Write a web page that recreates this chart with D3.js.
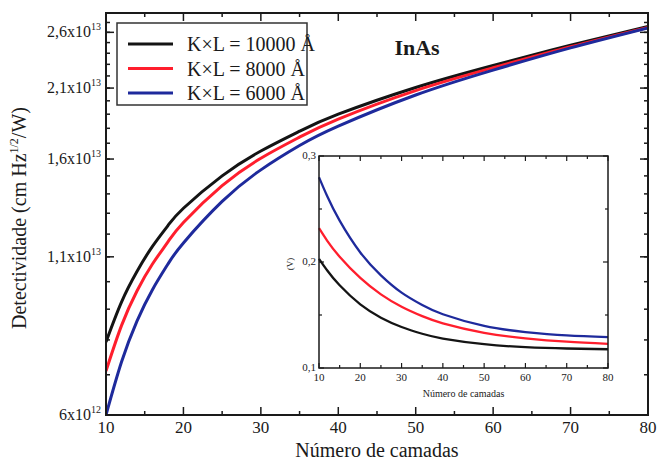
<!DOCTYPE html>
<html>
<head>
<meta charset="utf-8">
<script src="https://cdn.jsdelivr.net/npm/d3@7"></script>
<style>
  html, body { margin: 0; padding: 0; background: #fff; }
  svg, svg text { font-family: "Liberation Serif", "Times New Roman", Times, "DejaVu Serif", serif; }
</style>
</head>
<body>
<svg id="chart" width="657" height="465"></svg>
<script>
// Number of layers (x) for the main detectivity curves
const mainN = [10, 12, 14, 16, 18, 20, 25, 30, 35, 40, 50, 60, 70, 80];
// Detectivity (cm Hz^1/2 / W) for each K×L product
const detK10000 = [7.94e12, 9.25e12, 10.4e12, 11.45e12, 12.4e12, 13.25e12, 15.0e12, 16.5e12, 17.8e12, 19.0e12, 21.05e12, 22.9e12, 24.75e12, 26.6e12];
const detK8000  = [7.1e12, 8.45e12, 9.65e12, 10.7e12, 11.65e12, 12.55e12, 14.45e12, 16.05e12, 17.4e12, 18.65e12, 20.8e12, 22.7e12, 24.6e12, 26.5e12];
const detK6000  = [6.0e12, 7.35e12, 8.6e12, 9.7e12, 10.7e12, 11.6e12, 13.6e12, 15.35e12, 16.85e12, 18.15e12, 20.45e12, 22.5e12, 24.5e12, 26.45e12];

// Inset: voltage (V) versus number of layers
const insetN = [10, 12, 15, 20, 25, 30, 35, 40, 50, 60, 70, 80];
const voltK10000 = [0.203, 0.192, 0.178, 0.160, 0.1475, 0.1387, 0.1323, 0.1278, 0.1225, 0.1197, 0.1184, 0.1177];
const voltK8000  = [0.232, 0.220, 0.205, 0.185, 0.1695, 0.1578, 0.1489, 0.1422, 0.1332, 0.1280, 0.1248, 0.1228];
const voltK6000  = [0.280, 0.262, 0.239, 0.209, 0.1874, 0.1711, 0.1594, 0.1507, 0.1397, 0.1339, 0.1307, 0.1292];

const seriesNames = ["K\u00D7L = 10000 \u00C5", "K\u00D7L = 8000 \u00C5", "K\u00D7L = 6000 \u00C5"];
const seriesColors = ["#141414", "#ff1e2d", "#1e2a9c"];

const xTickValues = [10, 20, 30, 40, 50, 60, 70, 80];
const xMinorValues = [15, 25, 35, 45, 55, 65, 75];
const yTickValues = [6e12, 1.1e13, 1.6e13, 2.1e13, 2.6e13];
const yTickLabels = [["6x10", "12"], ["1,1x10", "13"], ["1,6x10", "13"], ["2,1x10", "13"], ["2,6x10", "13"]];
const yMinorValues = d3.range(7, 28).map(d => d * 1e12);

const insetYTicks = [0.1, 0.2, 0.3];
const insetYTickLabels = ["0,1", "0,2", "0,3"];
const insetYMinor = [0.15, 0.25];

const svg = d3.select("#chart");

// ---------- main panel ----------
const P = { left: 106, right: 648, top: 13, bottom: 415 };
const x = d3.scaleLinear().domain([10, 80]).range([P.left, P.right]);
const y = d3.scaleLog().domain([6e12, 2.8e13]).range([P.bottom, P.top]);

svg.append("defs").append("clipPath").attr("id", "plotClip")
  .append("rect").attr("x", P.left).attr("y", P.top)
  .attr("width", P.right - P.left).attr("height", P.bottom - P.top);

const axisG = svg.append("g").attr("stroke", "#1a1a1a").attr("stroke-width", 1.5);
// x ticks (bottom and top, pointing inward)
xTickValues.forEach(v => {
  axisG.append("line").attr("x1", x(v)).attr("x2", x(v)).attr("y1", P.bottom).attr("y2", P.bottom - 8);
  axisG.append("line").attr("x1", x(v)).attr("x2", x(v)).attr("y1", P.top).attr("y2", P.top + 8);
});
xMinorValues.forEach(v => {
  axisG.append("line").attr("x1", x(v)).attr("x2", x(v)).attr("y1", P.bottom).attr("y2", P.bottom - 4);
  axisG.append("line").attr("x1", x(v)).attr("x2", x(v)).attr("y1", P.top).attr("y2", P.top + 4);
});
// y ticks (left and right)
yTickValues.forEach(v => {
  axisG.append("line").attr("x1", P.left).attr("x2", P.left + 8).attr("y1", y(v)).attr("y2", y(v));
  axisG.append("line").attr("x1", P.right).attr("x2", P.right - 8).attr("y1", y(v)).attr("y2", y(v));
});
yMinorValues.forEach(v => {
  axisG.append("line").attr("x1", P.left).attr("x2", P.left + 4).attr("y1", y(v)).attr("y2", y(v));
  axisG.append("line").attr("x1", P.right).attr("x2", P.right - 4).attr("y1", y(v)).attr("y2", y(v));
});

// x tick labels
svg.append("g").selectAll("text").data(xTickValues).join("text")
  .attr("x", d => x(d)).attr("y", P.bottom + 18)
  .attr("text-anchor", "middle").attr("font-size", 17).attr("fill", "#1a1a1a")
  .text(d => d);

// y tick labels with superscript exponent
const yl = svg.append("g").selectAll("text").data(yTickValues).join("text")
  .attr("x", P.left - 5).attr("y", d => y(d) + 5)
  .attr("text-anchor", "end").attr("font-size", 16).attr("fill", "#1a1a1a");
yl.append("tspan").text((d, i) => yTickLabels[i][0]);
yl.append("tspan").attr("font-size", 10).attr("dy", -7).text((d, i) => yTickLabels[i][1]);

// axis titles
svg.append("text").attr("x", (P.left + P.right) / 2).attr("y", 457)
  .attr("text-anchor", "middle").attr("font-size", 20).attr("fill", "#1a1a1a")
  .text("N\u00FAmero de camadas");

const yt = svg.append("text").attr("transform", "translate(26,218) rotate(-90)")
  .attr("text-anchor", "middle").attr("font-size", 20).attr("fill", "#1a1a1a");
yt.append("tspan").text("Detectividade (cm Hz");
yt.append("tspan").attr("font-size", 12).attr("dy", -8).text("1/2");
yt.append("tspan").attr("dy", 8).text("/W)");

// curves
const mainLine = vals => d3.line().x((d, i) => x(mainN[i])).y(d => y(d)).curve(d3.curveNatural)(vals);
const curveG = svg.append("g").attr("clip-path", "url(#plotClip)");
[detK10000, detK8000, detK6000].forEach((vals, k) => {
  curveG.append("path").attr("d", mainLine(vals)).attr("fill", "none")
    .attr("stroke", seriesColors[k]).attr("stroke-width", 3);
});

// frame
svg.append("rect").attr("x", P.left).attr("y", P.top)
  .attr("width", P.right - P.left).attr("height", P.bottom - P.top)
  .attr("fill", "none").attr("stroke", "#1a1a1a").attr("stroke-width", 2);

// legend
const lg = svg.append("g");
lg.append("rect").attr("x", 117).attr("y", 23).attr("width", 190).attr("height", 82)
  .attr("fill", "#fff").attr("stroke", "#333").attr("stroke-width", 1.5);
seriesNames.forEach((name, k) => {
  const ly = 44 + k * 24.5;
  lg.append("line").attr("x1", 128).attr("x2", 173).attr("y1", ly).attr("y2", ly)
    .attr("stroke", seriesColors[k]).attr("stroke-width", 3);
  lg.append("text").attr("x", 187).attr("y", ly + 7).attr("font-size", 20).attr("fill", "#1a1a1a")
    .text(name);
});

svg.append("text").attr("x", 417).attr("y", 55).attr("text-anchor", "middle")
  .attr("font-size", 22).attr("font-weight", "bold").attr("fill", "#1a1a1a").text("InAs");

// ---------- inset ----------
const I = { left: 319, right: 608, top: 156, bottom: 368 };
const xi = d3.scaleLinear().domain([10, 80]).range([I.left, I.right]);
const yi = d3.scaleLinear().domain([0.1, 0.3]).range([I.bottom, I.top]);

svg.append("rect").attr("x", I.left).attr("y", I.top)
  .attr("width", I.right - I.left).attr("height", I.bottom - I.top).attr("fill", "#fff");

const ig = svg.append("g").attr("stroke", "#1a1a1a").attr("stroke-width", 1.2);
xTickValues.forEach(v => {
  ig.append("line").attr("x1", xi(v)).attr("x2", xi(v)).attr("y1", I.bottom).attr("y2", I.bottom - 5);
  ig.append("line").attr("x1", xi(v)).attr("x2", xi(v)).attr("y1", I.top).attr("y2", I.top + 5);
});
xMinorValues.forEach(v => {
  ig.append("line").attr("x1", xi(v)).attr("x2", xi(v)).attr("y1", I.bottom).attr("y2", I.bottom - 3);
  ig.append("line").attr("x1", xi(v)).attr("x2", xi(v)).attr("y1", I.top).attr("y2", I.top + 3);
});
insetYTicks.forEach(v => {
  ig.append("line").attr("x1", I.left).attr("x2", I.left + 5).attr("y1", yi(v)).attr("y2", yi(v));
  ig.append("line").attr("x1", I.right).attr("x2", I.right - 5).attr("y1", yi(v)).attr("y2", yi(v));
});
insetYMinor.forEach(v => {
  ig.append("line").attr("x1", I.left).attr("x2", I.left + 3).attr("y1", yi(v)).attr("y2", yi(v));
  ig.append("line").attr("x1", I.right).attr("x2", I.right - 3).attr("y1", yi(v)).attr("y2", yi(v));
});

svg.append("g").selectAll("text").data(xTickValues).join("text")
  .attr("x", d => xi(d)).attr("y", I.bottom + 13)
  .attr("text-anchor", "middle").attr("font-size", 11).attr("fill", "#1a1a1a")
  .text(d => d);
svg.append("g").selectAll("text").data(insetYTicks).join("text")
  .attr("x", I.left - 3).attr("y", d => yi(d) + 3)
  .attr("text-anchor", "end").attr("font-size", 11).attr("fill", "#1a1a1a")
  .text((d, i) => insetYTickLabels[i]);

svg.append("text").attr("x", (I.left + I.right) / 2).attr("y", 397)
  .attr("text-anchor", "middle").attr("font-size", 10).attr("fill", "#1a1a1a")
  .text("N\u00FAmero de camadas");
svg.append("text").attr("transform", `translate(293,${(I.top + I.bottom) / 2 + 2}) rotate(-90)`)
  .attr("text-anchor", "middle").attr("font-size", 9).attr("fill", "#1a1a1a").text("(V)");

const insetLine = vals => d3.line().x((d, i) => xi(insetN[i])).y(d => yi(d)).curve(d3.curveNatural)(vals);
[voltK10000, voltK8000, voltK6000].forEach((vals, k) => {
  svg.append("path").attr("d", insetLine(vals)).attr("fill", "none")
    .attr("stroke", seriesColors[k]).attr("stroke-width", 2.3);
});

svg.append("rect").attr("x", I.left).attr("y", I.top)
  .attr("width", I.right - I.left).attr("height", I.bottom - I.top)
  .attr("fill", "none").attr("stroke", "#1a1a1a").attr("stroke-width", 1.5);
</script>
</body>
</html>
